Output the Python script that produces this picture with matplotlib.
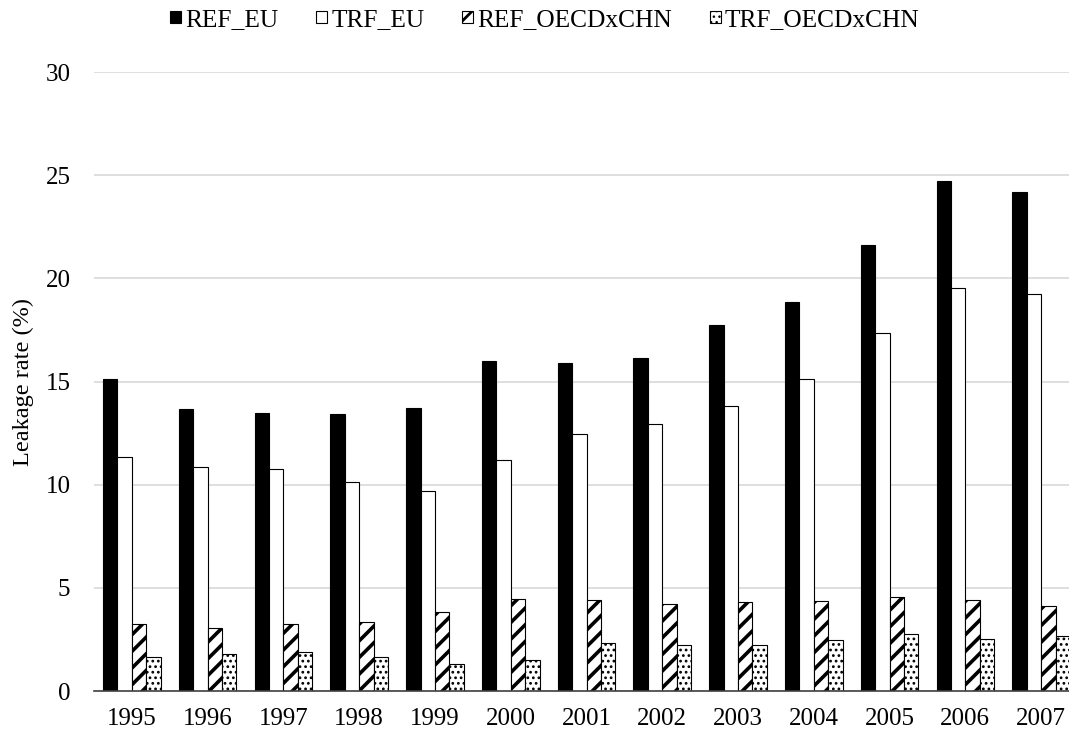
import numpy as np
import matplotlib
matplotlib.use("Agg")
import matplotlib.pyplot as plt

years = ["1995", "1996", "1997", "1998", "1999", "2000", "2001",
         "2002", "2003", "2004", "2005", "2006", "2007"]
ref_eu = [15.1, 13.67, 13.48, 13.43, 13.7, 16.0, 15.88,
          16.14, 17.74, 18.85, 21.6, 24.73, 24.18]
trf_eu = [11.36, 10.86, 10.75, 10.12, 9.69, 11.2, 12.47,
          12.96, 13.79, 15.13, 17.33, 19.55, 19.26]
ref_oecd = [3.26, 3.07, 3.23, 3.36, 3.82, 4.48, 4.42,
            4.23, 4.29, 4.34, 4.56, 4.40, 4.14]
trf_oecd = [1.64, 1.81, 1.89, 1.64, 1.32, 1.52, 2.31,
            2.23, 2.21, 2.49, 2.74, 2.51, 2.66]

plt.rcParams["font.family"] = ["Liberation Serif", "DejaVu Serif"]
plt.rcParams["hatch.color"] = "black"


def set_hatch_lw(bars, lw):
    for b in bars:
        if hasattr(b, "set_hatch_linewidth"):
            b.set_hatch_linewidth(lw)


fig = plt.figure(figsize=(10.69, 7.38), dpi=100)
ax = fig.add_axes([94 / 1069, 47 / 738, 985 / 1069, 619 / 738])

x = np.arange(len(years))
w = 0.19
ax.bar(x - 1.5 * w, ref_eu, w, color="black", edgecolor="black",
       linewidth=0.8, label="REF_EU", zorder=3)
ax.bar(x - 0.5 * w, trf_eu, w, color="white", edgecolor="black",
       linewidth=0.8, label="TRF_EU", zorder=3)
b3 = ax.bar(x + 0.5 * w, ref_oecd, w, color="white", edgecolor="black",
            linewidth=0.8, hatch="//", label="REF_OECDxCHN", zorder=3)
b4 = ax.bar(x + 1.5 * w, trf_oecd, w, color="white", edgecolor="black",
            linewidth=0.8, hatch="...", label="TRF_OECDxCHN", zorder=3)
set_hatch_lw(b3, 2.6)
set_hatch_lw(b4, 1.2)

ax.set_xlim(-0.5, len(years) - 0.5)
ax.set_ylim(0, 30)
ax.set_yticks(range(0, 31, 5))
ax.set_xticks(x)
ax.set_xticklabels(years)
ax.tick_params(axis="both", length=0, labelsize=18)
ax.tick_params(axis="y", pad=17)
ax.tick_params(axis="x", pad=12)
ax.grid(axis="y", color="#d9d9d9", linewidth=1.2, zorder=0)
for s in ["top", "right", "left"]:
    ax.spines[s].set_visible(False)
ax.spines["bottom"].set_color("#404040")
ax.spines["bottom"].set_linewidth(1.2)
ax.spines["bottom"].set_zorder(4)

ax.set_ylabel("Leakage rate (%)", fontsize=17.5, labelpad=8)

leg = fig.legend(loc="center", bbox_to_anchor=(545 / 1069, 1 - 20 / 738),
                 ncol=4, frameon=False, fontsize=18.3, handlelength=0.43,
                 handleheight=0.36, handletextpad=0.15, columnspacing=1.5,
                 borderpad=0)
set_hatch_lw(leg.legend_handles[2:3], 2.0)

fig.savefig("out.png", dpi=100)
